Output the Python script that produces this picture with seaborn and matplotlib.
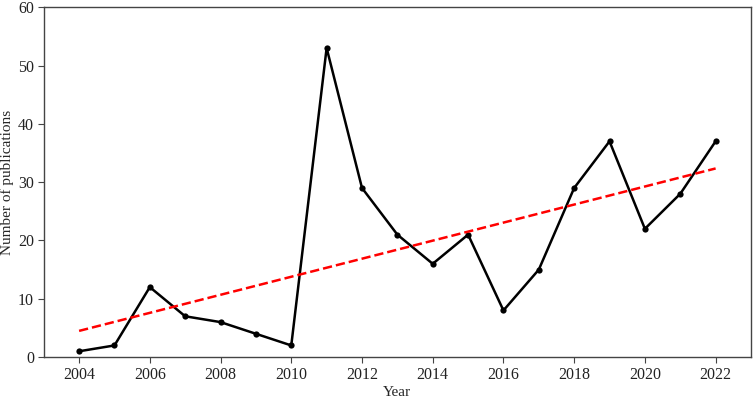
import numpy as np
import pandas as pd
import matplotlib
matplotlib.use("Agg")
import matplotlib.pyplot as plt
import seaborn as sns

# publications per year
years = [2004, 2005, 2006, 2007, 2008, 2009, 2010, 2011, 2012, 2013,
         2014, 2015, 2016, 2017, 2018, 2019, 2020, 2021, 2022]
counts = [1, 2, 12, 7, 6, 4, 2, 53, 29, 21,
          16, 21, 8, 15, 29, 37, 22, 28, 37]

df = pd.DataFrame({"Year": years, "Number of publications": counts})

# linear trend
coef = np.polyfit(df["Year"], df["Number of publications"], 1)
df["Trend"] = np.polyval(coef, df["Year"])

sns.set_style("ticks")
plt.rcParams["font.family"] = ["Liberation Serif", "DejaVu Serif"]
plt.rcParams["font.size"] = 11.5

fig = plt.figure(figsize=(7.54, 3.99), dpi=100)
ax = fig.add_axes([0.058, 0.105, 0.938, 0.877])

sns.lineplot(x="Year", y="Number of publications", data=df, color="black",
             marker="o", markersize=4.5, linewidth=1.8, markeredgewidth=0, ax=ax)
sns.lineplot(x="Year", y="Trend", data=df, color="red", linestyle="--",
             linewidth=1.8, ax=ax)

ax.set_xlim(2003, 2023)
ax.set_ylim(0, 60)
ax.set_xticks(range(2004, 2023, 2))
ax.set_yticks(range(0, 61, 10))
ax.set_xlabel("Year", fontsize=11, labelpad=2)
ax.set_ylabel("Number of publications", fontsize=11, labelpad=3)
for s in ax.spines.values():
    s.set_color("#444444")
    s.set_linewidth(1.0)
ax.tick_params(colors="#444444", labelcolor="#222222", length=4, pad=3)

fig.savefig("out.png", dpi=100)
